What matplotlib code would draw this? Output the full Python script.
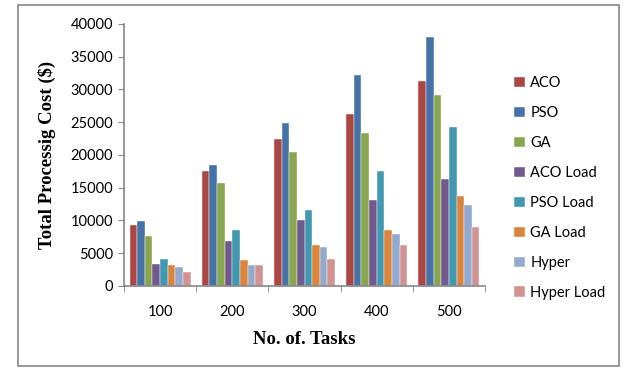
import numpy as np
import matplotlib.pyplot as plt
from matplotlib.patches import Rectangle

tasks = ["100", "200", "300", "400", "500"]
series = ["ACO", "PSO", "GA", "ACO Load", "PSO Load", "GA Load", "Hyper", "Hyper Load"]

aco = [9300, 17600, 22400, 26200, 31300]
pso = [9900, 18400, 24900, 32200, 38000]
ga = [7600, 15700, 20500, 23400, 29200]
aco_load = [3350, 6800, 10000, 13200, 16300]
pso_load = [4100, 8500, 11600, 17500, 24200]
ga_load = [3200, 4000, 6200, 8500, 13800]
hyper = [2900, 3200, 5900, 7900, 12300]
hyper_load = [2100, 3200, 4100, 6200, 9000]

values = [aco, pso, ga, aco_load, pso_load, ga_load, hyper, hyper_load]
colors = ["#AA4644", "#4572A7", "#89A54E", "#71588F", "#4198AF", "#DB843D", "#93A9CF", "#D19392"]

fig = plt.figure(figsize=(6.37, 3.79), dpi=100)
ax = fig.add_axes([0.1947, 0.2454, 0.5667, 0.6913])

x = np.arange(len(tasks))
w = 0.845 / len(series)
for i, (name, vals) in enumerate(zip(series, values)):
    ax.bar(x - 0.4225 + w * (i + 0.5), vals, width=w, color=colors[i], label=name,
           edgecolor="white", linewidth=0.3)

ax.set_xlim(-0.5, len(tasks) - 0.5)
ax.set_ylim(0, 40000)
ax.set_yticks(np.arange(0, 40001, 5000))
ax.set_xticks(x)
ax.set_xticklabels(tasks)
ax.set_xticks(np.arange(-0.5, len(tasks)), minor=True)
ax.tick_params(axis="x", which="major", length=0, pad=14)
ax.tick_params(axis="x", which="minor", length=4, color="#868686")
ax.tick_params(axis="y", length=4, color="#868686", pad=4)
for lab in ax.get_xticklabels() + ax.get_yticklabels():
    lab.set_fontfamily("Lato")
    lab.set_fontsize(10.5)

for s in ["top", "right"]:
    ax.spines[s].set_visible(False)
for s in ["left", "bottom"]:
    ax.spines[s].set_color("#868686")
    ax.spines[s].set_linewidth(1.2)

ax.set_xlabel("No. of. Tasks", fontfamily="Liberation Serif", fontweight="bold", fontsize=13.5, labelpad=8)
ax.set_ylabel("Total Processig Cost ($)", fontfamily="Liberation Serif", fontweight="bold", fontsize=13.5, labelpad=10)

leg = ax.legend(loc="upper left", bbox_to_anchor=(1.045, 0.85), frameon=False,
                prop={"family": "Lato", "size": 10.5}, handlelength=0.7, handleheight=0.7,
                handletextpad=0.4, labelspacing=1.09)

fig.patches.append(Rectangle((18 / 637, 1 - 366 / 379), (619 - 18) / 637, (366 - 5) / 379,
                             transform=fig.transFigure, fill=False, edgecolor="#868686", linewidth=1.2))

fig.savefig("out.png", dpi=100)
